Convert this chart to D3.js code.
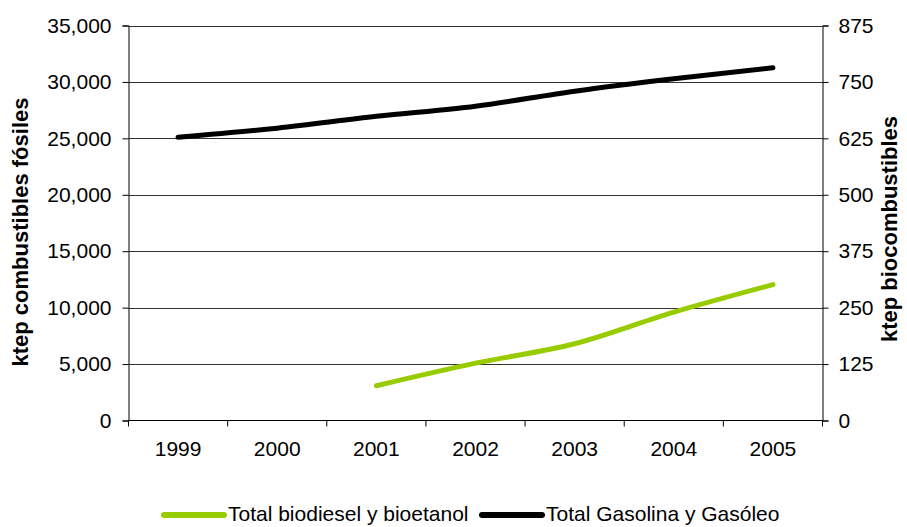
<!DOCTYPE html>
<html>
<head>
<meta charset="utf-8">
<script src="https://cdn.jsdelivr.net/npm/d3@7"></script>
<style>
  body { margin: 0; background: #fff; }
  svg text { font-family: "Liberation Sans", Arial, sans-serif; fill: #000; }
</style>
</head>
<body>
<div id="canvas"></div>
<script>
"use strict"

/* Data */
let years = ["1999", "2000", "2001", "2002", "2003", "2004", "2005"];
let fosilValues = [25100, 25900, 26950, 27850, 29180, 30280, 31250];  // ktep, left axis
let bioYears = ["2001", "2002", "2003", "2004", "2005"];
let bioValues = [77, 127, 170, 240, 301];                             // ktep, right axis
let leftTicks = [0, 5000, 10000, 15000, 20000, 25000, 30000, 35000];
let rightTicks = [0, 125, 250, 375, 500, 625, 750, 875];

/* Drawing configuration */
let svgWidth = 907;
let svgHeight = 527;

let plotLeft = 128.5;
let plotRight = 822.5;
let plotTop = 25.5;
let plotBottom = 420.5;

let tickFont = 21;
let titleFont = 22;

let bioColor = "#99cc00";
let fosilColor = "#000000";

let svg = d3.select("#canvas")
    .append("svg")
    .attr("width", svgWidth)
    .attr("height", svgHeight);

// Scales
let xScale = d3.scaleBand()
    .domain(years)
    .range([plotLeft, plotRight])
    .padding(0);

let yLeft = d3.scaleLinear()
    .domain([0, 35000])
    .range([plotBottom, plotTop]);

let yRight = d3.scaleLinear()
    .domain([0, 875])
    .range([plotBottom, plotTop]);

function xCenter(year) {
    return xScale(year) + xScale.bandwidth() / 2;
}

// Gridlines
svg.append("g")
    .selectAll("line")
    .data(leftTicks.filter(function(d) { return d > 0; }))
    .join("line")
    .attr("x1", plotLeft)
    .attr("x2", plotRight)
    .attr("y1", function(d) { return Math.round(yLeft(d)) + 0.5; })
    .attr("y2", function(d) { return Math.round(yLeft(d)) + 0.5; })
    .attr("stroke", "#333")
    .attr("stroke-width", 1);

// Left axis
let leftAxis = svg.append("g")
    .attr("transform", "translate(" + plotLeft + ",0)")
    .call(d3.axisLeft(yLeft)
        .tickValues(leftTicks)
        .tickSize(6)
        .tickPadding(11)
        .tickFormat(d3.format(",")));

// Right axis
let rightAxis = svg.append("g")
    .attr("transform", "translate(" + plotRight + ",0)")
    .call(d3.axisRight(yRight)
        .tickValues(rightTicks)
        .tickSize(6)
        .tickPadding(10));

// Bottom axis: ticks on category boundaries, labels in the middle
let bottomAxis = svg.append("g")
    .attr("transform", "translate(0," + plotBottom + ")")
    .call(d3.axisBottom(xScale)
        .tickSize(0)
        .tickPadding(21));

bottomAxis.selectAll(".tick")
    .attr("transform", function(d) { return "translate(" + xCenter(d) + ",0)"; });

bottomAxis.selectAll(".boundary")
    .data(years.concat(["end"]))
    .join("line")
    .attr("class", "boundary")
    .attr("x1", function(d, i) { return plotLeft + i * xScale.bandwidth(); })
    .attr("x2", function(d, i) { return plotLeft + i * xScale.bandwidth(); })
    .attr("y1", 0)
    .attr("y2", 6)
    .attr("stroke", "#000");

[leftAxis, rightAxis, bottomAxis].forEach(function(ax) {
    ax.selectAll("text")
        .attr("font-size", tickFont)
        .attr("font-family", "Liberation Sans, Arial, sans-serif")
        .attr("fill", "#000");
    ax.selectAll("path").attr("stroke", "#000");
    ax.selectAll("line").attr("stroke", "#000");
});
bottomAxis.select(".domain").attr("d", "M" + plotLeft + ",0H" + plotRight);

// Lines (smoothed, like the original)
let fosilLine = d3.line()
    .x(function(d, i) { return xCenter(years[i]); })
    .y(function(d) { return yLeft(d); })
    .curve(d3.curveMonotoneX);

let bioLine = d3.line()
    .x(function(d, i) { return xCenter(bioYears[i]); })
    .y(function(d) { return yRight(d); })
    .curve(d3.curveMonotoneX);

svg.append("path")
    .datum(bioValues)
    .attr("d", bioLine)
    .attr("fill", "none")
    .attr("stroke", bioColor)
    .attr("stroke-width", 5)
    .attr("stroke-linecap", "round")
    .attr("stroke-linejoin", "round");

svg.append("path")
    .datum(fosilValues)
    .attr("d", fosilLine)
    .attr("fill", "none")
    .attr("stroke", fosilColor)
    .attr("stroke-width", 5)
    .attr("stroke-linecap", "round")
    .attr("stroke-linejoin", "round");

/**** axis titles ****/
svg.append("text")
    .attr("transform", "rotate(-90)")
    .attr("x", -232)
    .attr("y", 28)
    .attr("text-anchor", "middle")
    .attr("font-size", titleFont)
    .attr("font-weight", "bold")
    .text("ktep combustibles fósiles");

svg.append("text")
    .attr("transform", "rotate(-90)")
    .attr("x", -229)
    .attr("y", 897)
    .attr("text-anchor", "middle")
    .attr("font-size", titleFont)
    .attr("font-weight", "bold")
    .text("ktep biocombustibles");

/**** legend ****/
let legendItems = [
    {color: bioColor, label: "Total biodiesel y bioetanol", x: 164},
    {color: fosilColor, label: "Total Gasolina y Gasóleo", x: 482}
];

for (let i = 0; i < legendItems.length; i++) {
    let item = legendItems[i];
    svg.append("line")
        .attr("x1", item.x)
        .attr("x2", item.x + 60)
        .attr("y1", 515)
        .attr("y2", 515)
        .attr("stroke", item.color)
        .attr("stroke-width", 6)
        .attr("stroke-linecap", "round");

    svg.append("text")
        .attr("x", item.x + 64)
        .attr("y", 515)
        .attr("dominant-baseline", "middle")
        .attr("font-size", tickFont)
        .text(item.label);
}
</script>
</body>
</html>
